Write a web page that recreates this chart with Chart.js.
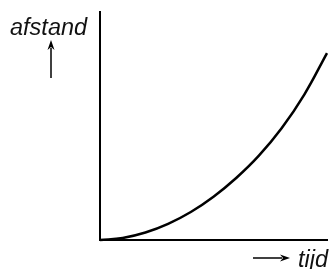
<!DOCTYPE html>
<html>
<head>
<meta charset="utf-8">
<script src="https://cdn.jsdelivr.net/npm/chart.js@4"></script>
<style>
  html, body { margin: 0; padding: 0; background: #fff; }
  #wrap { width: 329px; height: 269px; }
</style>
</head>
<body>
<div id="wrap"><canvas id="c" width="329" height="269"></canvas></div>
<script>
// tijd (x) en afstand (y)
const tijd    = [0, 1, 2, 3, 4, 5, 6, 7, 8, 9, 10];
const afstand = [0, 0.09, 0.33, 0.71, 1.23, 1.90, 2.72, 3.70, 4.90, 6.38, 8.2];

const yLabel = 'afstand';
const xLabel = 'tijd';

function arrow(ctx, x1, y1, x2, y2) {
    const ang = Math.atan2(y2 - y1, x2 - x1);
    const len = 10, half = 3.5;
    ctx.beginPath();
    ctx.moveTo(x1, y1);
    ctx.lineTo(x2 - Math.cos(ang) * (len - 2), y2 - Math.sin(ang) * (len - 2));
    ctx.stroke();
    ctx.beginPath();
    ctx.moveTo(x2, y2);
    ctx.lineTo(x2 - Math.cos(ang) * len - Math.sin(ang) * half, y2 - Math.sin(ang) * len + Math.cos(ang) * half);
    ctx.lineTo(x2 - Math.cos(ang) * (len - 3), y2 - Math.sin(ang) * (len - 3));
    ctx.lineTo(x2 - Math.cos(ang) * len + Math.sin(ang) * half, y2 - Math.sin(ang) * len - Math.cos(ang) * half);
    ctx.closePath();
    ctx.fill();
}

// labels met pijlen
const labelPlugin = {
    id: 'labels',
    afterDraw(chart) {
        const ctx = chart.ctx;
        const a = chart.chartArea;
        ctx.save();
        ctx.fillStyle = '#111';
        ctx.strokeStyle = '#000';
        ctx.lineWidth = 1.5;
        ctx.font = 'italic 23.5px "Liberation Sans", Arial, sans-serif';
        ctx.textBaseline = 'alphabetic';
        ctx.textAlign = 'left';
        ctx.fillText(yLabel, 10, 35);
        ctx.fillStyle = '#000';
        arrow(ctx, 51, 78, 51, 40);
        ctx.fillStyle = '#111';
        ctx.fillText(xLabel, 298, a.bottom + 27);
        ctx.fillStyle = '#000';
        arrow(ctx, 253, a.bottom + 18, 290, a.bottom + 18);
        ctx.restore();
    }
};

new Chart(document.getElementById('c'), {
    type: 'line',
    data: {
        labels: tijd,
        datasets: [{
            data: tijd.map((t, i) => ({ x: t, y: afstand[i] })),
            borderColor: '#000',
            borderWidth: 2.5,
            pointRadius: 0,
            fill: false,
            tension: 0.4,
            clip: false,
        }]
    },
    options: {
        responsive: false,
        animation: false,
        events: [],
        layout: { padding: { left: 100, top: 12, right: 2, bottom: 29 } },
        plugins: { legend: { display: false }, tooltip: { enabled: false } },
        scales: {
            x: {
                type: 'linear', min: 0, max: 10,
                grid: { display: false, drawTicks: false },
                ticks: { display: false },
                border: { display: true, color: '#000', width: 2 },
                afterFit: (s) => { s.height = 0; }
            },
            y: {
                type: 'linear', min: 0, max: 10,
                grid: { display: false, drawTicks: false },
                ticks: { display: false },
                border: { display: true, color: '#000', width: 2 },
                afterFit: (s) => { s.width = 0; }
            }
        }
    },
    plugins: [labelPlugin]
});
</script>
</body>
</html>
